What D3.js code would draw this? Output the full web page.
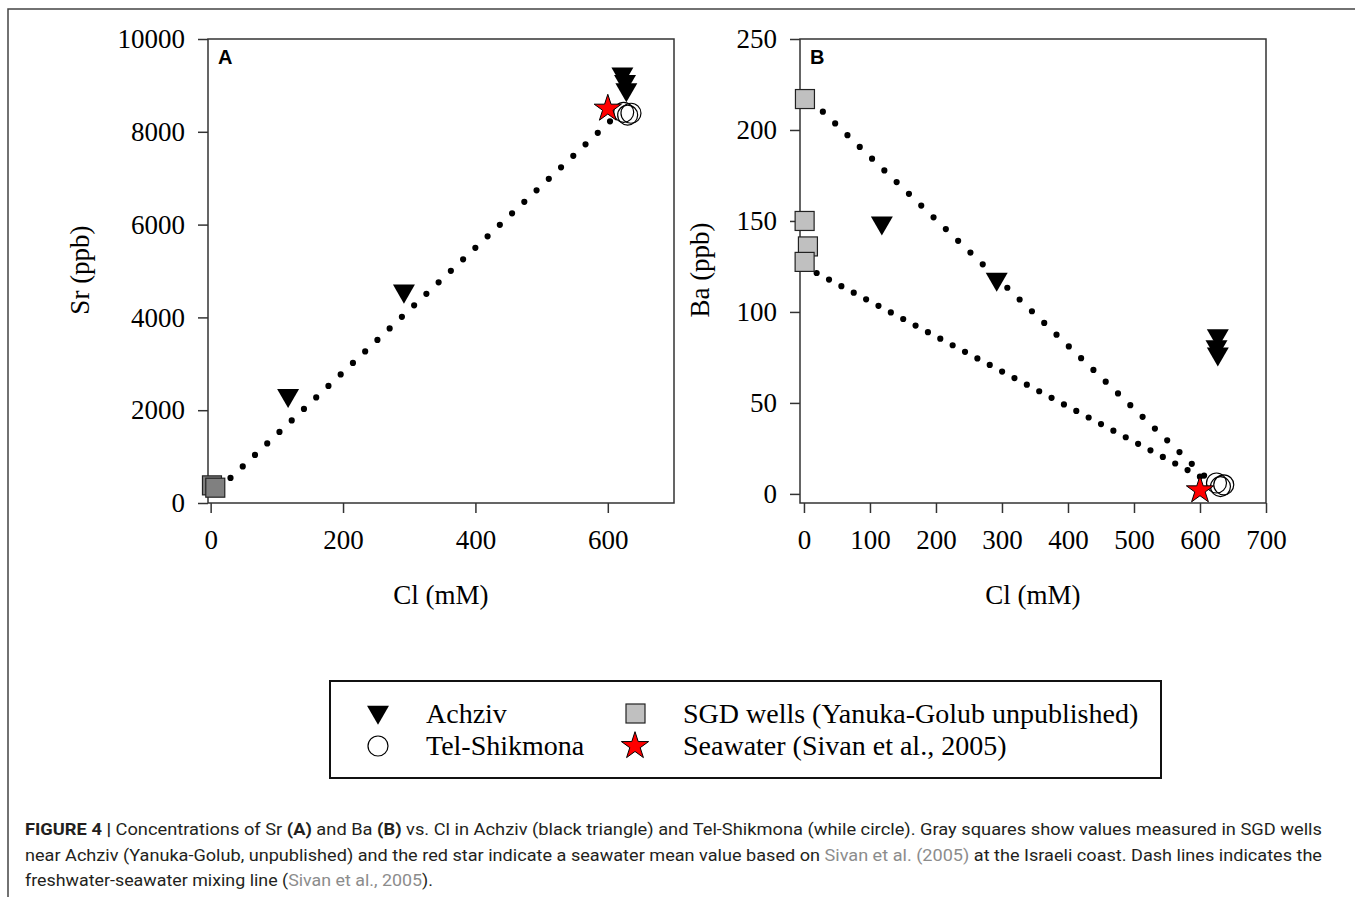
<!DOCTYPE html>
<html>
<head>
<meta charset="utf-8">
<script src="https://cdn.jsdelivr.net/npm/d3@7"></script>
<style>
  body { margin: 0; background: #fff; }
  svg { display: block; }
</style>
</head>
<body>
<svg id="fig" width="1355" height="897"></svg>
<script>
// data, [Cl (mM), value]
var achzivSr = [[117, 2320], [292, 4570], [622, 9250], [626, 9090], [628, 8910]];
var telSr = [[624, 8420], [630, 8360], [635, 8400]];
var sgdSr = [[2, 380], [7, 330]];
var seaSr = [[600, 8500]];
var mixSr = [[[30, 540], [620, 8450]]];

var achzivBa = [[118, 149], [292, 118], [627, 87], [625, 81], [627, 77]];
var telBa = [[625, 6], [631, 4], [636, 5]];
var sgdBa = [[1.5, 217], [1, 150], [6, 136], [1, 127.5]];
var seaBa = [[600, 2]];
var mixBa = [[[10, 216.5], [618, 6]], [[0.5, 125], [618, 6]]];

var ticksA_x = [0, 200, 400, 600];
var ticksA_y = [0, 2000, 4000, 6000, 8000, 10000];
var ticksB_x = [0, 100, 200, 300, 400, 500, 600, 700];
var ticksB_y = [0, 50, 100, 150, 200, 250];

var serif = "'Liberation Serif', 'Times New Roman', serif";
var sans = "'Liberation Sans', Arial, sans-serif";
var axisCol = "#333";

var svg = d3.select("#fig");

// outer frame (top and left only)
svg.append("path").attr("d", "M8,897 L8,9 L1355,9")
  .attr("fill", "none").attr("stroke", "#444").attr("stroke-width", 1.5);

var triSym = d3.symbol(d3.symbolTriangle, 209);
var starSym = d3.symbol(d3.symbolStar, 230);

function panel(cfg) {
  var x = d3.scaleLinear().domain(cfg.xDom).range([cfg.left, cfg.right]);
  var y = d3.scaleLinear().domain(cfg.yDom).range([cfg.bottom, cfg.top]);
  var g = svg.append("g");

  var xAxis = d3.axisBottom(x).tickValues(cfg.xTicks).tickFormat(d3.format("d"))
    .tickSize(10).tickSizeOuter(0).tickPadding(17);
  var yAxis = d3.axisLeft(y).tickValues(cfg.yTicks).tickFormat(d3.format("d"))
    .tickSize(10).tickSizeOuter(0).tickPadding(13);

  var gx = g.append("g").attr("transform", "translate(0," + cfg.bottom + ")").call(xAxis);
  var gy = g.append("g").attr("transform", "translate(" + cfg.left + ",0)").call(yAxis);
  [gx, gy].forEach(function (a) {
    a.select(".domain").remove();
    a.selectAll("line").attr("stroke", axisCol).attr("stroke-width", 1.5);
    a.selectAll("text").attr("font-family", serif).attr("font-size", 27).attr("fill", "#000");
  });

  g.append("rect")
    .attr("x", cfg.left).attr("y", cfg.top)
    .attr("width", cfg.right - cfg.left).attr("height", cfg.bottom - cfg.top)
    .attr("fill", "none").attr("stroke", axisCol).attr("stroke-width", 1.5);

  g.append("text").attr("x", cfg.left + 10).attr("y", cfg.top + 25)
    .attr("font-family", sans).attr("font-weight", "bold").attr("font-size", 20)
    .text(cfg.letter);

  // axis titles
  g.append("text")
    .attr("transform", "translate(" + cfg.yTitleX + ",270) rotate(-90)")
    .attr("text-anchor", "middle").attr("dy", "0.35em")
    .attr("font-family", serif).attr("font-size", 27).text(cfg.yTitle);
  g.append("text")
    .attr("x", (cfg.left + cfg.right) / 2).attr("y", 604)
    .attr("text-anchor", "middle")
    .attr("font-family", serif).attr("font-size", 27).text("Cl (mM)");

  // mixing lines, dotted
  var line = d3.line().x(function (d) { return x(d[0]); }).y(function (d) { return y(d[1]); });
  g.selectAll(".mix").data(cfg.mix).enter().append("path")
    .attr("d", line)
    .attr("fill", "none").attr("stroke", "#000").attr("stroke-width", 6.2)
    .attr("stroke-linecap", "round")
    .attr("stroke-dasharray", function (d, i) { return "0 " + cfg.gap[i]; });

  g.selectAll(".sgd").data(cfg.sgd).enter().append("rect")
    .attr("x", function (d) { return x(d[0]) - 9.5; })
    .attr("y", function (d) { return y(d[1]) - 9.5; })
    .attr("width", 19).attr("height", 19)
    .attr("fill", cfg.sgdFill).attr("stroke", "#222").attr("stroke-width", 1.2);

  g.selectAll(".ach").data(cfg.ach).enter().append("path")
    .attr("d", triSym)
    .attr("transform", function (d) { return "translate(" + x(d[0]) + "," + y(d[1]) + ") rotate(180)"; })
    .attr("fill", "#000");

  g.selectAll(".tel").data(cfg.tel).enter().append("circle")
    .attr("cx", function (d) { return x(d[0]); })
    .attr("cy", function (d) { return y(d[1]); })
    .attr("r", 10)
    .attr("fill", "none").attr("stroke", "#000").attr("stroke-width", 1.2);

  g.selectAll(".sea").data(cfg.sea).enter().append("path")
    .attr("d", starSym)
    .attr("transform", function (d) { return "translate(" + x(d[0]) + "," + y(d[1]) + ")"; })
    .attr("fill", "#ff0000").attr("stroke", "#000").attr("stroke-width", 1);
}

panel({
  letter: "A", left: 208, right: 674, top: 39, bottom: 503,
  xDom: [-4, 700], yDom: [0, 10000], xTicks: ticksA_x, yTicks: ticksA_y,
  yTitle: "Sr (ppb)", yTitleX: 80,
  ach: achzivSr, tel: telSr, sgd: sgdSr, sea: seaSr, mix: mixSr, gap: [16.8],
  sgdFill: "#808080"
});

panel({
  letter: "B", left: 800, right: 1266, top: 39, bottom: 503,
  xDom: [-6, 700], yDom: [-5, 250], xTicks: ticksB_x, yTicks: ticksB_y,
  yTitle: "Ba (ppb)", yTitleX: 700,
  ach: achzivBa, tel: telBa, sgd: sgdBa, sea: seaBa, mix: mixBa, gap: [17, 14],
  sgdFill: "#c0c0c0"
});

// legend
var leg = svg.append("g");
leg.append("rect").attr("x", 330).attr("y", 681).attr("width", 831).attr("height", 97)
  .attr("fill", "#fff").attr("stroke", "#111").attr("stroke-width", 2);
leg.append("path").attr("d", triSym).attr("transform", "translate(378,712) rotate(180)").attr("fill", "#000");
leg.append("circle").attr("cx", 378).attr("cy", 746).attr("r", 10)
  .attr("fill", "none").attr("stroke", "#000").attr("stroke-width", 1.2);
leg.append("rect").attr("x", 626).attr("y", 704).attr("width", 19).attr("height", 19)
  .attr("fill", "#c0c0c0").attr("stroke", "#222").attr("stroke-width", 1.2);
leg.append("path").attr("d", starSym).attr("transform", "translate(635,746)")
  .attr("fill", "#ff0000").attr("stroke", "#000").attr("stroke-width", 1);
var legItems = [
  { x: 426, y: 723, t: "Achziv" },
  { x: 426, y: 755, t: "Tel-Shikmona" },
  { x: 683, y: 723, t: "SGD wells (Yanuka-Golub unpublished)" },
  { x: 683, y: 755, t: "Seawater (Sivan et al., 2005)" }
];
leg.selectAll(".lt").data(legItems).enter().append("text")
  .attr("x", function (d) { return d.x; }).attr("y", function (d) { return d.y; })
  .attr("font-family", serif).attr("font-size", 28).text(function (d) { return d.t; });

// caption
var capLines = [
  { y: 835, w: 1297, parts: [
    ["FIGURE 4 | ", "b"], ["Concentrations of Sr ", ""], ["(A)", "b"], [" and Ba ", ""], ["(B)", "b"],
    [" vs. Cl in Achziv (black triangle) and Tel-Shikmona (while circle). Gray squares show values measured in SGD wells", ""]] },
  { y: 861, w: 1297, parts: [
    ["near Achziv (Yanuka-Golub, unpublished) and the red star indicate a seawater mean value based on ", ""],
    ["Sivan et al. (2005)", "g"], [" at the Israeli coast. Dash lines indicates the", ""]] },
  { y: 886, w: 408, parts: [
    ["freshwater-seawater mixing line (", ""], ["Sivan et al., 2005", "g"], [").", ""]] }
];
capLines.forEach(function (ln) {
  var t = svg.append("text").attr("x", 25).attr("y", ln.y)
    .attr("font-family", "Roboto, 'Liberation Sans', sans-serif").attr("font-size", 17)
    .attr("fill", "#231f20")
    .attr("textLength", ln.w).attr("lengthAdjust", "spacingAndGlyphs");
  ln.parts.forEach(function (p) {
    var s = t.append("tspan").text(p[0]);
    if (p[1] === "b") s.attr("font-weight", "bold");
    if (p[1] === "g") s.attr("fill", "#8c8c8c");
  });
});
</script>
</body>
</html>
